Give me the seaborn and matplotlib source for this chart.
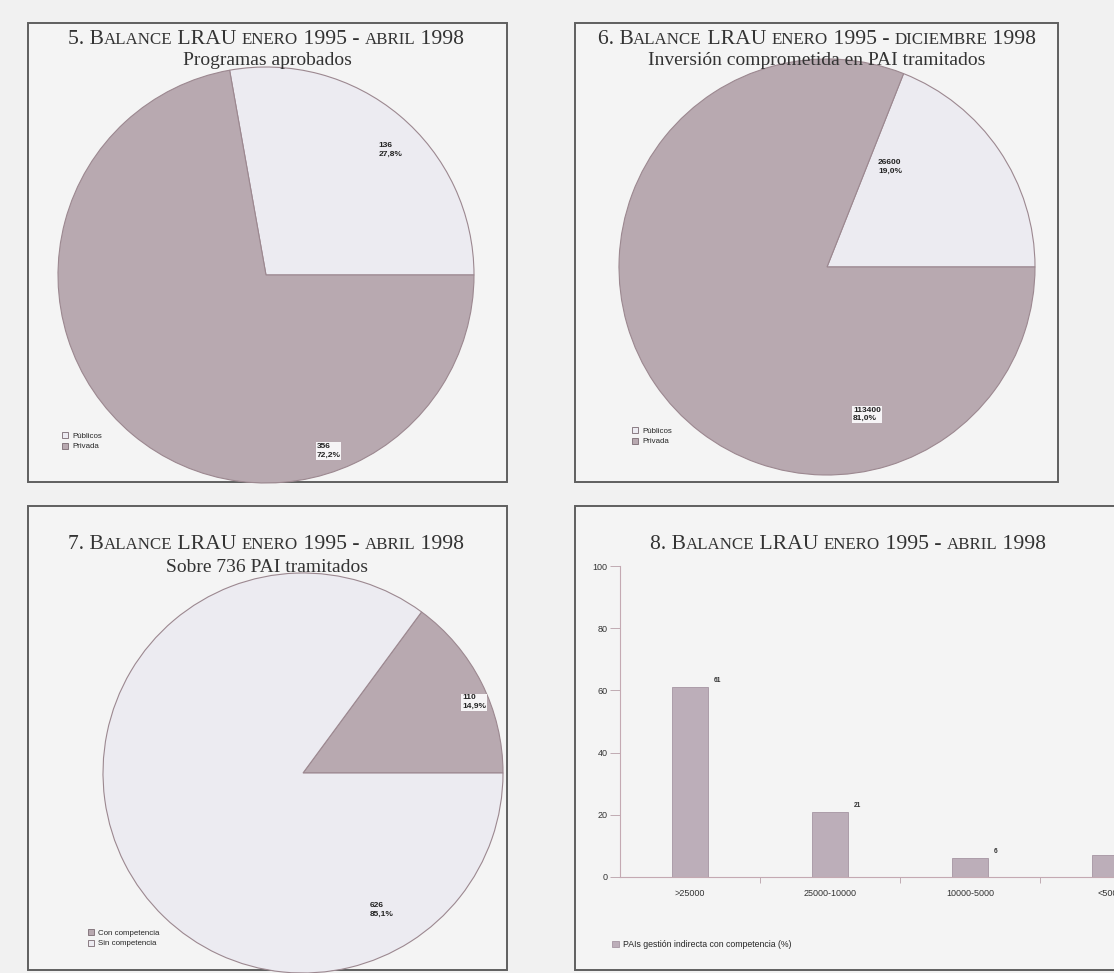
import numpy as np
import pandas as pd
import matplotlib
matplotlib.use("Agg")
import matplotlib.pyplot as plt
from matplotlib.patches import Rectangle, Patch
import seaborn as sns

# ---------------- data ----------------
p5_labels = ["Públicos", "Privada"]
p5_values = [136, 356]
p5_pct = ["27,8%", "72,2%"]
p5_shares = [27.8, 72.2]

p6_labels = ["Públicos", "Privada"]
p6_values = [26600, 113400]
p6_pct = ["19,0%", "81,0%"]
p6_shares = [19.0, 81.0]

p7_labels = ["Con competencia", "Sin competencia"]
p7_values = [110, 626]
p7_pct = ["14,9%", "85,1%"]
p7_shares = [14.9, 85.1]

bar_categories = [">25000", "25000-10000", "10000-5000", "<5000"]
bar_values = [61, 21, 6, 7]
bar_series = "PAIs gestión indirecta con competencia (%)"
y_ticks = [0, 20, 40, 60, 80, 100]

# ---------------- style ----------------
W, H = 1114, 973
sns.set_theme(style="white")
plt.rcParams["font.family"] = ["Liberation Sans", "DejaVu Sans"]

BG = "#f1f1f1"
BOXFACE = "#f4f4f4"
LIGHT = "#ecebf1"
DARK = "#b8a9b0"
EDGE = "#9c8890"
BARC = "#bcaeb9"

fig = plt.figure(figsize=(W / 100, H / 100), dpi=100, facecolor=BG)


def px_rect(x0, y0, x1, y1):
    return [x0 / W, 1 - y1 / H, (x1 - x0) / W, (y1 - y0) / H]


def frame(x0, y0, x1, y1):
    fig.patches.append(Rectangle((x0 / W, 1 - y1 / H), (x1 - x0) / W, (y1 - y0) / H,
                                 transform=fig.transFigure, facecolor=BOXFACE,
                                 edgecolor="#5f5f5f", linewidth=1.4, zorder=-10))


frame(28, 23, 507, 482)
frame(575, 23, 1058, 482)
frame(28, 506, 507, 970)
frame(575, 506, 1200, 970)

renderer = fig.canvas.get_renderer()


def smallcaps_title(cx, y_base, parts, big=15.6, small=12.2):
    texts = []
    for s, is_big in parts:
        t = fig.text(0, 1 - y_base / H, s, fontsize=big if is_big else small,
                     family=["Liberation Serif", "DejaVu Serif"], color="#333333",
                     va="baseline", ha="left")
        texts.append(t)
    widths = [t.get_window_extent(renderer).width for t in texts]
    total = sum(widths)
    x = cx - total / 2
    for t, w in zip(texts, widths):
        t.set_x(x / W)
        x += w


def subtitle(cx, y_base, s):
    fig.text(cx / W, 1 - y_base / H, s, fontsize=14,
             family=["Liberation Serif", "DejaVu Serif"], color="#333333",
             va="baseline", ha="center")


def parts_for(num, month):
    return [(f"{num}. B", True), ("ALANCE", False), (" LRAU ", True), ("ENERO", False),
            (" 1995 - ", True), (month, False), (" 1998", True)]


smallcaps_title(266, 44, parts_for(5, "ABRIL"))
subtitle(267, 65, "Programas aprobados")
smallcaps_title(817, 44, parts_for(6, "DICIEMBRE"))
subtitle(817, 65, "Inversión comprometida en PAI tramitados")
smallcaps_title(266, 549, parts_for(7, "ABRIL"))
subtitle(267, 572, "Sobre 736 PAI tramitados")
smallcaps_title(848, 549, parts_for(8, "ABRIL"))


# ---------------- pies ----------------
def draw_pie(cx, cy, r, shares, values, pcts, colors, label_pos, boxed, legend_xy, labels):
    ax = fig.add_axes(px_rect(cx - r, cy - r, cx + r, cy + r))
    ax.set_facecolor("none")
    ax.pie(shares, colors=colors, startangle=0, counterclock=True, radius=1,
           wedgeprops=dict(edgecolor=EDGE, linewidth=0.8))
    ax.set_xlim(-1, 1)
    ax.set_ylim(-1, 1)
    ax.set_aspect("equal")
    ax.axis("off")
    for v, p, (ang, rad), bx in zip(values, pcts, label_pos, boxed):
        a = np.deg2rad(ang)
        kw = dict(fontsize=6, color="#222222", fontweight="bold", ha="left", va="center",
                  linespacing=1.3)
        if bx:
            kw["bbox"] = dict(facecolor="#f6f4f6", edgecolor="none", pad=0.6)
        ax.text(rad * np.cos(a), rad * np.sin(a), f"{v}\n{p}", **kw)
    handles = [Patch(facecolor=c, edgecolor="#7a6a72", linewidth=0.6) for c in colors]
    fig.legend(handles, labels, loc="upper left",
               bbox_to_anchor=(legend_xy[0] / W, 1 - legend_xy[1] / H),
               frameon=False, fontsize=5.7, handlelength=0.8, handleheight=0.8,
               handletextpad=0.5, labelspacing=0.35, borderpad=0, borderaxespad=0)


draw_pie(266, 275, 208, p5_shares, p5_values, p5_pct, [LIGHT, DARK],
         [(48, 0.81), (-74, 0.88)], [False, True], (62, 432), p5_labels)
draw_pie(827, 267, 208, p6_shares, p6_values, p6_pct, [LIGHT, DARK],
         [(63, 0.54), (-80, 0.72)], [False, True], (632, 427), p6_labels)
draw_pie(303, 773, 200, p7_shares, p7_values, p7_pct, [DARK, LIGHT],
         [(24, 0.87), (-64, 0.76)], [True, False], (88, 929), p7_labels)

# ---------------- bar chart ----------------
df = pd.DataFrame({"cat": bar_categories, "val": bar_values})
bx = fig.add_axes(px_rect(620, 566, 1180, 877))
bx.set_facecolor("none")
sns.barplot(data=df, x="cat", y="val", color=BARC, width=0.26,
            edgecolor="#a595a2", linewidth=0.6, saturation=1, ax=bx)
bx.set_xlim(-0.5, len(bar_categories) - 0.5)
bx.set_ylim(0, 100)
bx.set_yticks(y_ticks)
bx.set_xlabel("")
bx.set_ylabel("")
for s in ["top", "right"]:
    bx.spines[s].set_visible(False)
for s in ["left", "bottom"]:
    bx.spines[s].set_color("#c4a9b2")
    bx.spines[s].set_linewidth(0.8)
bx.tick_params(axis="y", direction="out", length=7, width=0.6, color="#b8a0a8",
               labelsize=6.5, labelcolor="#333333", pad=2, left=True)
bx.tick_params(axis="x", which="major", length=0, labelsize=6.5, labelcolor="#333333", pad=9)
bx.set_xticks(np.arange(len(bar_categories)) + 0.5, minor=True)
bx.tick_params(axis="x", which="minor", direction="out", length=4, width=0.6,
               color="#b8a0a8", bottom=True)
for i, v in enumerate(bar_values):
    bx.text(i + 0.17, v + 1, str(v), fontsize=4.8, color="#333333",
            ha="left", va="bottom", fontweight="bold")

fig.legend([Patch(facecolor=BARC, edgecolor="#a595a2", linewidth=0.6)], [bar_series],
           loc="upper left", bbox_to_anchor=(612 / W, 1 - 940 / H), frameon=False,
           fontsize=6.3, handlelength=0.8, handleheight=0.8, handletextpad=0.5,
           borderpad=0, borderaxespad=0)

fig.savefig("out.png", dpi=100, facecolor=BG)
